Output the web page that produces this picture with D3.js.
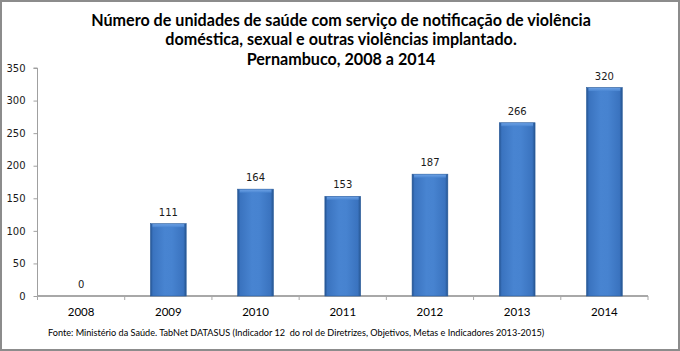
<!DOCTYPE html>
<html>
<head>
<meta charset="utf-8">
<script src="https://cdn.jsdelivr.net/npm/d3@7"></script>
<style>
html,body{margin:0;padding:0;background:#fff;}
svg{display:block;}
</style>
</head>
<body>
<svg id="chart" width="680" height="351"></svg>
<script>
const categories = ["2008","2009","2010","2011","2012","2013","2014"];
const values = [0,111,164,153,187,266,320];
const yTicks = [0,50,100,150,200,250,300,350];
const titleLines = [
  "Número de unidades de saúde com serviço de notificação de violência",
  "doméstica, sexual e outras violências implantado.",
  "Pernambuco, 2008 a 2014"
];
const footnote = "Fonte: Ministério da Saúde. TabNet DATASUS (Indicador 12  do rol de Diretrizes, Objetivos, Metas e Indicadores 2013-2015)";

(function(){
const svg = d3.select("#chart");
const W = 680, H = 351;

svg.append("rect").attr("x",1).attr("y",1).attr("width",W-2).attr("height",H-2)
  .attr("fill","#fff").attr("stroke","#8c8c8c").attr("stroke-width",2);

const defs = svg.append("defs");
const g1 = defs.append("linearGradient").attr("id","barGrad").attr("x1","0").attr("x2","1").attr("y1","0").attr("y2","0");
[["0%","#23528f"],["7%","#3a73bf"],["40%","#4884d1"],["60%","#4783d0"],["92%","#3a73bf"],["100%","#25548f"]]
  .forEach(([o,c])=>g1.append("stop").attr("offset",o).attr("stop-color",c));
const g2 = defs.append("linearGradient").attr("id","topGrad").attr("x1","0").attr("x2","0").attr("y1","0").attr("y2","1");
[["0%","#6fa3e6"],["100%","#4a86d2"]].forEach(([o,c])=>g2.append("stop").attr("offset",o).attr("stop-color",c));

const pLeft = 37.5, pRight = 648, pTop = 68, pBottom = 296;
const x = d3.scaleBand().domain(categories).range([pLeft, pRight]).paddingInner(0.59).paddingOuter(0.295);
const y = d3.scaleLinear().domain([0,350]).range([pBottom, pTop]);

const tTexts = svg.append("g").selectAll("text").data(titleLines).enter().append("text")
  .attr("x", 341).attr("y",(d,i)=>25.5+i*19.5)
  .attr("text-anchor","middle")
  .attr("font-family","Lato, 'Open Sans', sans-serif")
  .attr("font-weight","bold").attr("font-size",16).attr("fill","#000")
  .text(d=>d);
const w0 = tTexts.node().getComputedTextLength();
tTexts.attr("font-size",16*500/w0);

const yAxis = d3.axisLeft(y).tickValues(yTicks).tickSize(4).tickPadding(8);
const gy = svg.append("g").attr("transform",`translate(${pLeft},0)`).call(yAxis);
gy.select(".domain").attr("stroke","#a0a0a0").attr("d",`M-4,${pTop}H0V${pBottom}`);
gy.selectAll(".tick line").attr("stroke","#a0a0a0");
gy.selectAll(".tick text").attr("font-family","'DejaVu Sans', sans-serif").attr("font-size",10).attr("fill","#1a1a1a");

const gx = svg.append("g").attr("transform",`translate(0,${pBottom})`);
gx.append("line").attr("x1",pLeft).attr("x2",pRight).attr("y1",0).attr("y2",0).attr("stroke","#a8a8a8").attr("stroke-width",2);
const centers = categories.map(c=>x(c)+x.bandwidth()/2);
const edges = [pLeft].concat(centers.map((c,i)=> i<centers.length-1 ? (c+centers[i+1])/2 : pRight));
gx.selectAll("line.tk").data(edges).enter().append("line").attr("class","tk")
  .attr("x1",d=>d).attr("x2",d=>d).attr("y1",0).attr("y2",4).attr("stroke","#a8a8a8");
gx.selectAll("text").data(categories).enter().append("text")
  .attr("x",d=>x(d)+x.bandwidth()/2).attr("y",20)
  .attr("text-anchor","middle").attr("font-family","Lato, sans-serif").attr("font-size",11.5).attr("fill","#000")
  .text(d=>d);

const bars = svg.append("g");
bars.selectAll("rect.bar").data(values).enter().append("rect").attr("class","bar")
  .attr("x",(d,i)=>x(categories[i])).attr("width",x.bandwidth())
  .attr("y",d=>y(d)).attr("height",d=>pBottom-y(d))
  .attr("fill","url(#barGrad)").attr("stroke","#2b5d9c").attr("stroke-width",0.6)
  .attr("display",d=>d>0?null:"none");
bars.selectAll("rect.topb").data(values).enter().append("rect").attr("class","topb")
  .attr("x",(d,i)=>x(categories[i])+2).attr("width",x.bandwidth()-4)
  .attr("y",d=>y(d)+0.5).attr("height",3)
  .attr("fill","url(#topGrad)").attr("opacity",0.9)
  .attr("display",d=>d>0?null:"none");

svg.append("g").selectAll("text").data(values).enter().append("text")
  .attr("x",(d,i)=>x(categories[i])+x.bandwidth()/2).attr("y",d=>y(d)-8)
  .attr("text-anchor","middle").attr("font-family","'DejaVu Sans', sans-serif").attr("font-size",10).attr("fill","#1a1a1a")
  .text(d=>d);

const fn = svg.append("text").attr("x",48).attr("y",336)
  .attr("xml:space","preserve").style("white-space","pre")
  .attr("font-family","Lato, sans-serif").attr("font-size",9).attr("fill","#000").text(footnote);
const fw = fn.node().getComputedTextLength();
fn.attr("font-size", 9*497/fw);
})();
</script>
</body>
</html>
